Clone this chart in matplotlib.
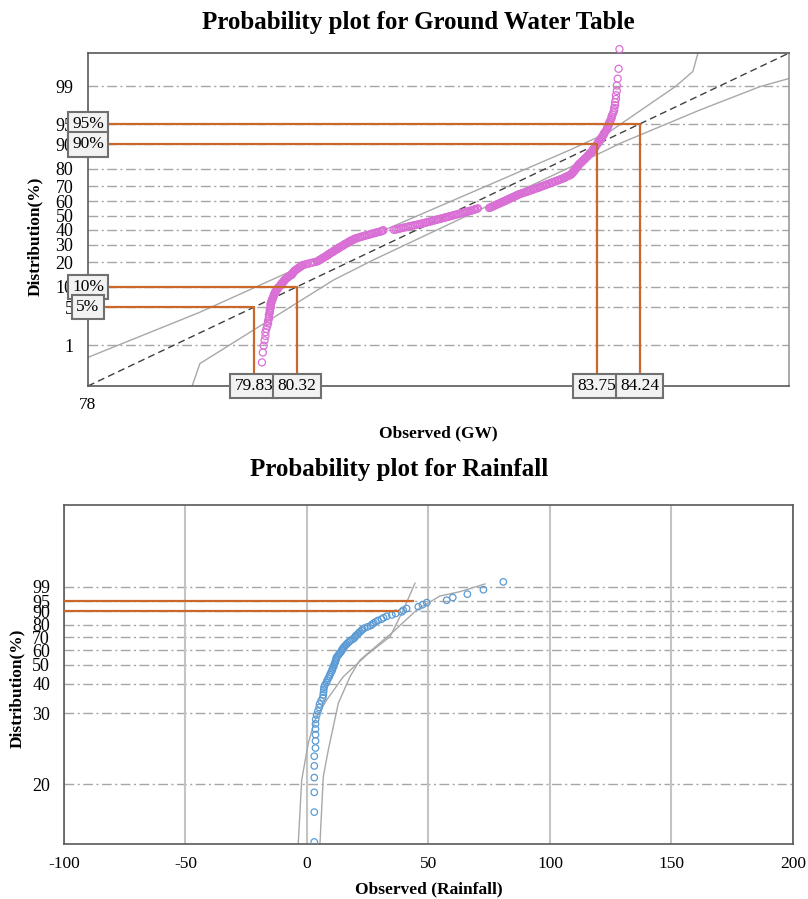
import numpy as np
import matplotlib
matplotlib.use('Agg')
import matplotlib.pyplot as plt
from statistics import NormalDist

# ---- Ground water table (sorted observations) ----
gw_values = [
    79.90, 79.92, 79.93, 79.94, 79.95, 79.96, 79.96, 79.97, 79.98, 79.99,
    79.99, 80.00, 80.00, 80.00, 80.01, 80.01, 80.01, 80.02, 80.02, 80.02, 80.02, 80.03, 80.03,
    80.04, 80.04, 80.05, 80.05, 80.06, 80.06, 80.07, 80.07,
    80.08, 80.09, 80.10, 80.10, 80.11, 80.12, 80.13,
    80.14, 80.14, 80.15, 80.16, 80.17, 80.17, 80.18,
    80.19, 80.20, 80.21, 80.22, 80.23, 80.24, 80.26,
    80.26, 80.27, 80.27, 80.28, 80.29, 80.29, 80.30,
    80.31, 80.32, 80.33, 80.34, 80.35, 80.36, 80.37, 80.38, 80.39,
    80.42, 80.44, 80.47, 80.49, 80.52, 80.55,
    80.56, 80.57, 80.58, 80.59, 80.60, 80.61, 80.62, 80.63, 80.64, 80.65, 80.66, 80.67,
    80.68, 80.68, 80.69, 80.70,
    80.71, 80.72, 80.73, 80.74, 80.74, 80.75, 80.76, 80.77, 80.78, 80.79, 80.80, 80.80,
    80.81, 80.82, 80.83, 80.84, 80.85, 80.86, 80.86, 80.87, 80.88, 80.89, 80.90, 80.91,
    80.92, 80.92, 80.93, 80.94, 80.95, 80.96, 80.97, 80.98, 80.99,
    81.00, 81.02, 81.04, 81.05, 81.07, 81.09, 81.10, 81.12, 81.14, 81.16, 81.17, 81.19,
    81.21, 81.22, 81.24, 81.26, 81.28, 81.29, 81.30, 81.31,
    81.43, 81.45, 81.47, 81.49, 81.51, 81.53, 81.55, 81.57, 81.59, 81.61, 81.63, 81.65,
    81.67, 81.69, 81.71, 81.73, 81.75, 81.77, 81.79, 81.80, 81.82, 81.84,
    81.86, 81.87, 81.89, 81.91, 81.92, 81.94, 81.96, 81.97, 81.99, 82.01, 82.02, 82.04,
    82.06, 82.07, 82.09, 82.11, 82.12, 82.14, 82.16, 82.17, 82.19, 82.21, 82.22, 82.24,
    82.26, 82.27, 82.29, 82.31, 82.32, 82.34, 82.35, 82.36, 82.38, 82.39,
    82.52, 82.53, 82.54, 82.55, 82.56, 82.57, 82.58, 82.59, 82.60, 82.61, 82.62, 82.63,
    82.64, 82.65, 82.66, 82.67, 82.68, 82.69, 82.70, 82.71, 82.72, 82.73, 82.74, 82.75,
    82.76, 82.77, 82.78, 82.79, 82.80, 82.81, 82.82, 82.83, 82.84, 82.85, 82.86, 82.87, 82.89,
    82.90, 82.92, 82.93, 82.95, 82.96, 82.97, 82.99, 83.00, 83.02, 83.03, 83.04, 83.06,
    83.07, 83.09, 83.10, 83.11, 83.13, 83.14, 83.16, 83.17, 83.18, 83.20, 83.21, 83.23,
    83.24, 83.25, 83.27, 83.28, 83.30, 83.31, 83.32, 83.34, 83.35, 83.37,
    83.38, 83.39, 83.40, 83.41, 83.43, 83.44, 83.45,
    83.46, 83.46, 83.47, 83.47, 83.48, 83.48, 83.49, 83.49, 83.50, 83.50, 83.51, 83.51,
    83.52, 83.52, 83.53, 83.53, 83.54, 83.54, 83.55, 83.55, 83.56,
    83.57, 83.58, 83.58, 83.59, 83.60, 83.61, 83.61, 83.62, 83.63, 83.64, 83.64, 83.65,
    83.66, 83.67, 83.67, 83.68, 83.69, 83.70, 83.70, 83.71,
    83.72, 83.72, 83.73, 83.74, 83.74, 83.75,
    83.76, 83.76, 83.77, 83.78, 83.79, 83.80, 83.80, 83.81, 83.82, 83.83, 83.83, 83.84, 83.85,
    83.86, 83.87, 83.87, 83.88, 83.89, 83.89, 83.90,
    83.91, 83.92, 83.92, 83.93, 83.94,
    83.95, 83.95, 83.96, 83.96,
    83.97, 83.97, 83.98, 83.98, 83.99, 84.00, 84.01,
]
gw_mean = 82.035
gw_std = 1.3404
gw_upper_x = [77.93, 79.21, 80.70, 83.445, 83.90, 84.65, 84.85, 84.91]
gw_upper_p = [0.542, 4.12, 24.8, 88.1, 93.45, 98.98, 99.52, 99.83]
gw_lower_x = [79.12, 79.21, 80.737, 81.19, 83.865, 84.02, 84.935, 85.62, 85.96]
gw_lower_p = [0.107, 0.391, 12.3, 21.19, 88.1, 90.32, 97.13, 98.98, 99.32]
gw_ticks = [1, 5, 10, 20, 30, 40, 50, 60, 70, 80, 90, 95, 99]
gw_guide_pct = [5, 10, 90, 95]
gw_guide_val = [79.83, 80.32, 83.75, 84.24]

# ---- Rainfall (sorted observations) ----
rain_values = [
    0.0, 0.0, 0.0, 0.0, 0.0, 0.0, 0.5, 0.5, 1.0, 1.0, 1.5, 1.5, 2.0, 2.0, 2.5, 2.5, 3.0,
    3.0, 3.0, 3.0, 3.0, 3.0, 3.0, 3.5, 3.5, 3.5, 3.5, 3.5, 3.6, 4.0, 4.5, 5.0, 5.2,
    5.8, 6.5, 6.7, 6.8, 6.9, 7.0, 7.4, 8.0, 8.3, 8.8, 9.2, 9.5, 9.9, 10.3, 10.5, 10.8,
    11.1, 11.3, 11.6, 11.8, 12.0, 12.1, 12.5, 13.0, 13.4, 13.9, 14.3, 14.5, 14.9, 15.3,
    15.8, 16.3, 16.8, 17.4, 18.0, 18.9, 19.5, 19.8, 20.2, 20.8, 21.3, 21.8, 22.4, 22.9,
    23.6, 24.9, 26.2, 26.8, 27.5, 28.3, 29.2, 30.7, 31.5, 32.8, 34.9, 36.5, 39.0, 39.6,
    41.0, 45.8, 47.5, 49.3, 57.5, 60.0, 66.0, 72.6, 80.8,
]
rain_left_x = [-3.58, -2.18, 0.53, 3.29, 8.11, 14.94, 24.57, 34.16, 39.63, 44.44]
rain_left_p = [17.47, 20.32, 24.15, 28.33, 33.76, 43.31, 56.4, 70.5, 90.66, 99.38]
rain_right_x = [5.35, 6.71, 8.77, 12.88, 17.70, 21.81, 35.51, 45.14, 54.73, 62.96, 73.25]
rain_right_p = [17.47, 20.57, 23.25, 32.7, 43.31, 52.99, 74.6, 90.66, 96.98, 98.10, 99.31]
rain_ticks = [20, 30, 40, 50, 60, 70, 80, 90, 95, 99]
rain_guide_pct = [95, 90]
rain_guide_val = [43.7, 37.6]
rain_xticks = [-100, -50, 0, 50, 100, 150, 200]

nd = NormalDist()


def z_of(pct):
    return np.array([nd.inv_cdf(p / 100.0) for p in np.atleast_1d(pct)])


def t_of(pct):
    # log-shifted normal probability scale used by the rainfall panel
    z = z_of(pct) + 1.0
    out = np.full(z.shape, np.nan)
    out[z > 0] = np.log(z[z > 0])
    return out


plt.rcParams['font.family'] = ['Liberation Serif', 'DejaVu Serif']
plt.rcParams['font.size'] = 12
plt.rcParams['axes.unicode_minus'] = False

ORANGE = '#c9682a'
GRID = '#a6a6a6'
BAND = '#a8a8a8'
SPINE = '#595959'
dashdot = (0, (7, 2.5, 1.5, 2.5))
box = dict(boxstyle='square,pad=0.25', fc='#f2f2f2', ec='#707070', lw=1.5)

fig = plt.figure(figsize=(8.08, 8.99), dpi=100)

# ================= top panel =================
ax1 = fig.add_axes([0.1089, 0.5706, 0.8676, 0.3704])
x0, x1 = 77.93, 85.95
y0, y1 = -3.063, 2.921
ax1.set_xlim(x0, x1)
ax1.set_ylim(y0, y1)

for t in gw_ticks:
    ax1.axhline(z_of(t)[0], color=GRID, lw=1, ls=dashdot, zorder=1)

ax1.plot(gw_upper_x, z_of(gw_upper_p), color=BAND, lw=1, zorder=2)
ax1.plot(gw_lower_x, z_of(gw_lower_p), color=BAND, lw=1, zorder=2)
xs = np.array([x0, x1])
ax1.plot(xs, (xs - gw_mean) / gw_std, color='#404040', lw=1, ls=(0, (5, 3)), zorder=2)

gw = np.array(gw_values)
n = len(gw)
pos = (np.arange(1, n + 1) - 0.5) / n * 100
ax1.scatter(gw, z_of(pos), s=26, facecolors='none', edgecolors='#da70d6',
            linewidths=0.9, zorder=3, clip_on=False)

for pct, val in zip(gw_guide_pct, gw_guide_val):
    zq = z_of(pct)[0]
    ax1.plot([x0, val, val], [zq, zq, y0], color=ORANGE, lw=1.6, zorder=4)
for pct in [95, 90, 10, 5]:
    ax1.text(x0, z_of(pct)[0], f'{pct}%', ha='center', va='center', fontsize=12.5,
             bbox=box, zorder=6)
for val in gw_guide_val:
    ax1.text(val, y0, f'{val:.2f}', ha='center', va='center', fontsize=12.5,
             bbox=box, zorder=6)

ax1.set_yticks(z_of(gw_ticks))
ax1.set_yticklabels([str(t) for t in gw_ticks])
ax1.set_xticks([x0])
ax1.set_xticklabels(['78'])
ax1.tick_params(axis='both', length=0)
ax1.tick_params(axis='y', pad=10.5, labelsize=13)
ax1.tick_params(axis='x', pad=8, labelsize=12.5)
for s in ax1.spines.values():
    s.set_color(SPINE)
    s.set_linewidth(1.2)
ax1.spines['right'].set_color('#9a9a9a')

ax1.set_title('Probability plot for Ground Water Table', fontsize=18,
              fontweight='bold', pad=17, x=0.471)
ax1.set_xlabel('Observed (GW)', fontsize=12.5, fontweight='bold')
ax1.xaxis.set_label_coords(0.5, -0.117)
ax1.set_ylabel('Distribution(%)', fontsize=12.5, fontweight='bold')
ax1.yaxis.set_label_coords(-0.064, 0.45)

# ================= bottom panel =================
ax2 = fig.add_axes([0.0792, 0.0612, 0.9022, 0.3771])
ax2.set_xlim(-100, 200)
ax2.set_ylim(-2.758, 2.457)

ax2.set_xticks(rain_xticks)
ax2.grid(axis='x', color='#c4c4c4', lw=1.5, zorder=0)
for t in rain_ticks:
    ax2.axhline(t_of(t)[0], color=GRID, lw=1, ls=dashdot, zorder=1)

ax2.plot(rain_left_x, t_of(rain_left_p), color=BAND, lw=1, zorder=2)
ax2.plot(rain_right_x, t_of(rain_right_p), color=BAND, lw=1, zorder=2)

for pct, val in zip(rain_guide_pct, rain_guide_val):
    tq = t_of(pct)[0]
    ax2.plot([-100, val], [tq, tq], color=ORANGE, lw=1.6, zorder=4)

rv = np.array(rain_values)
m = len(rv)
rpos = (np.arange(1, m + 1) - 0.5) / m * 100
ax2.scatter(rv, t_of(rpos), s=22, facecolors='none', edgecolors='#5b9bd5',
            linewidths=0.9, zorder=3)

ax2.set_yticks(t_of(rain_ticks))
ax2.set_yticklabels([str(t) for t in rain_ticks])
ax2.tick_params(axis='both', length=0)
ax2.tick_params(axis='y', pad=10, labelsize=13)
ax2.tick_params(axis='x', pad=8.5, labelsize=12.5)
for s in ax2.spines.values():
    s.set_color(SPINE)
    s.set_linewidth(1.2)

ax2.set_title('Probability plot for Rainfall', fontsize=18, fontweight='bold',
              pad=21, x=0.4595)
ax2.set_xlabel('Observed (Rainfall)', fontsize=12.5, fontweight='bold')
ax2.xaxis.set_label_coords(0.5, -0.109)
ax2.set_ylabel('Distribution(%)', fontsize=12.5, fontweight='bold')
ax2.yaxis.set_label_coords(-0.0535, 0.46)

plt.savefig('out.png', dpi=100)
